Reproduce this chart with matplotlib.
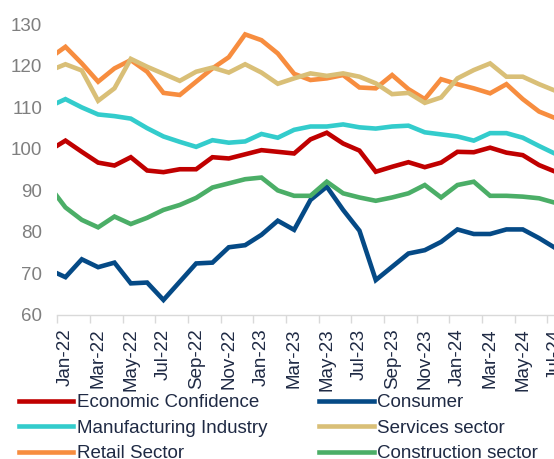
import matplotlib
matplotlib.use("Agg")
import matplotlib.pyplot as plt
import numpy as np

plt.rcParams['font.family'] = ['Liberation Sans', 'DejaVu Sans']

# monthly index, Dec-21 (partly clipped at the left edge) .. Jul-24
months = ['Dec-21',
          'Jan-22', 'Feb-22', 'Mar-22', 'Apr-22', 'May-22', 'Jun-22', 'Jul-22', 'Aug-22',
          'Sep-22', 'Oct-22', 'Nov-22', 'Dec-22', 'Jan-23', 'Feb-23', 'Mar-23', 'Apr-23',
          'May-23', 'Jun-23', 'Jul-23', 'Aug-23', 'Sep-23', 'Oct-23', 'Nov-23', 'Dec-23',
          'Jan-24', 'Feb-24', 'Mar-24', 'Apr-24', 'May-24', 'Jun-24', 'Jul-24']

economic = [99.5, 101.9, 99.2, 96.6, 95.9, 97.9, 94.7, 94.3, 95.0, 95.0, 97.9, 97.6, 98.6,
            99.6, 99.2, 98.8, 102.2, 103.8, 101.2, 99.5, 94.4, 95.6, 96.7, 95.5, 96.6,
            99.2, 99.1, 100.2, 99.0, 98.4, 96.0, 94.4]
consumer = [70.8, 69.0, 73.3, 71.4, 72.5, 67.5, 67.7, 63.5, 67.9, 72.3, 72.5, 76.2, 76.7,
            79.2, 82.6, 80.4, 87.6, 90.8, 85.2, 80.2, 68.3, 71.5, 74.7, 75.5, 77.5,
            80.5, 79.4, 79.4, 80.5, 80.5, 78.4, 76.0]
manufacturing = [110.1, 111.9, 109.9, 108.2, 107.8, 107.2, 104.9, 102.9, 101.6, 100.4, 102.0,
                 101.4, 101.7, 103.5, 102.6, 104.5, 105.3, 105.3, 105.8, 105.1, 104.8, 105.3,
                 105.5, 103.9, 103.4, 102.9, 101.9, 103.7, 103.7, 102.6, 100.6, 98.7]
services = [118.7, 120.3, 118.8, 111.5, 114.5, 121.6, 119.7, 118.0, 116.3, 118.5, 119.5,
            118.3, 120.3, 118.3, 115.6, 116.9, 118.1, 117.5, 118.1, 117.3, 115.7, 113.1,
            113.4, 111.0, 112.3, 116.9, 118.9, 120.5, 117.3, 117.3, 115.5, 113.9]
retail = [121.7, 124.5, 120.5, 116.1, 119.3, 121.3, 118.5, 113.4, 112.9, 116.1, 119.3,
          122.0, 127.5, 126.1, 122.9, 118.0, 116.5, 116.9, 117.7, 114.7, 114.5, 117.7,
          114.3, 111.9, 116.7, 115.5, 114.5, 113.3, 115.5, 111.9, 108.9, 107.3]
construction = [91.0, 85.8, 82.8, 81.0, 83.6, 81.8, 83.3, 85.2, 86.4, 88.1, 90.6, 91.6, 92.6,
                93.0, 89.9, 88.6, 88.6, 92.0, 89.2, 88.2, 87.4, 88.2, 89.2, 91.2, 88.2,
                91.2, 92.0, 88.6, 88.6, 88.4, 88.0, 86.9]

series = [
    ('Economic Confidence', economic, '#C00000'),
    ('Manufacturing Industry', manufacturing, '#33CCCC'),
    ('Retail Sector', retail, '#F78D3F'),
    ('Consumer', consumer, '#054A86'),
    ('Services sector', services, '#D9BF77'),
    ('Construction sector', construction, '#4BAE67'),
]

W, H = 554, 459
fig = plt.figure(figsize=(W / 100, H / 100), dpi=100)
# axes runs slightly past the right edge of the image, as in the reference
ax = fig.add_axes([57.3 / W, 1 - 314.5 / H, (563.6 - 57.3) / W, (314.5 - 24) / H])

x = np.arange(len(months)) - 1  # Jan-22 at 0
handles = []
for name, vals, color in series:
    h, = ax.plot(x, vals, color=color, lw=3.3, solid_joinstyle='miter', label=name)
    handles.append(h)

ax.set_xlim(-0.5, 30.5)
ax.set_ylim(60, 130)
ax.set_yticks(range(60, 131, 10))
ax.tick_params(axis='y', length=0, pad=11, labelsize=13.5, labelcolor='#7F7F7F')

ax.set_xticks(range(0, 31, 2))
ax.set_xticklabels(months[1::2], rotation=90)
ax.set_xticks(np.arange(-0.5, 31, 2), minor=True)
ax.tick_params(axis='x', which='major', length=0, pad=10, labelsize=13.5, labelcolor='#1F2A44')
ax.tick_params(axis='x', which='minor', length=6, width=1, color='#D9D9D9')

for s in ['left', 'right', 'top']:
    ax.spines[s].set_visible(False)
ax.spines['bottom'].set_color('#D9D9D9')
ax.spines['bottom'].set_linewidth(1)

leg = fig.legend(handles=handles, loc='upper left', bbox_to_anchor=(19 / W, 1 - 394 / H),
                 ncol=2, frameon=False, fontsize=13.5, handlelength=2.9, handletextpad=0.2,
                 columnspacing=2.75, labelspacing=0.45, borderpad=0, borderaxespad=0)
for t in leg.get_texts():
    t.set_color('#1F2A44')

fig.savefig('out.png', dpi=100)
